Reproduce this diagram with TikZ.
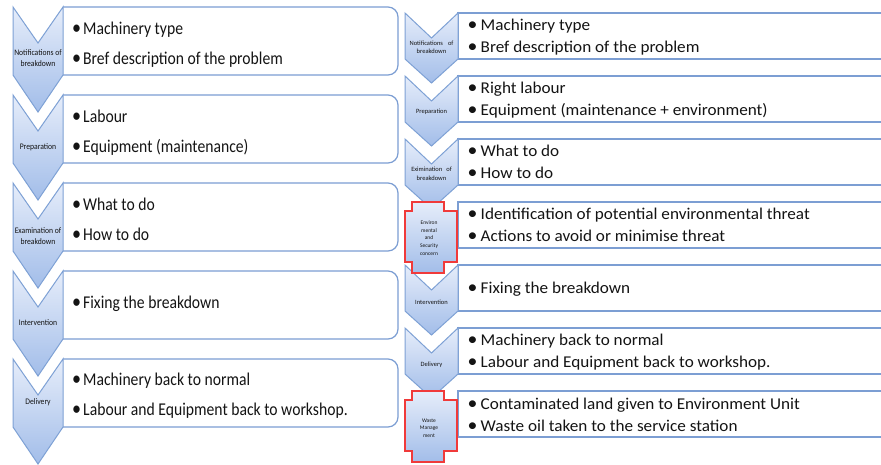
\documentclass[tikz,border=0pt]{standalone}
\usepackage{fontspec}
\setmainfont{Carlito}
\newfontfamily\leftfont[FakeStretch=0.87]{Carlito}
\newfontfamily\rightfont[FakeStretch=1.04]{Carlito}
\newfontfamily\labfont[FakeStretch=0.9]{Carlito}

\definecolor{chevtop}{HTML}{E6EDFA}
\definecolor{chevbot}{HTML}{A2BDE9}
\definecolor{chevline}{HTML}{7EA1D5}
\definecolor{boxline}{HTML}{7C9ED3}
\definecolor{crossline}{HTML}{F03A3A}
\definecolor{txt}{HTML}{141414}

% bullet glyph, enlarged a little, in a fixed-width slot
\newcommand\bigbul{\raisebox{-0.1ex}{\scalebox{1.15}{•}}}
\newcommand\lbul{\makebox[11pt][l]{\bigbul}}
\newcommand\rbul{\makebox[13pt][l]{\bigbul}}

\tikzset{
  chevron/.style={draw=chevline, line width=1pt, top color=chevtop, bottom color=chevbot, line join=miter},
  crossshape/.style={draw=crossline, line width=1.5pt, top color=chevtop, bottom color=chevbot, line join=miter},
  listbox/.style={draw=boxline, line width=1.2pt, fill=white},
  ltext/.style={anchor=base west, inner sep=0pt, font=\leftfont\fontsize{18}{18}\selectfont, text=txt},
  rtext/.style={anchor=base west, inner sep=0pt, font=\rightfont\fontsize{16.5}{16.5}\selectfont, text=txt},
  llabel/.style={align=center, inner sep=0pt, font=\labfont\fontsize{8.5}{11}\selectfont, text=txt},
  rlabel/.style={align=center, inner sep=0pt, font=\fontsize{6.5}{8.5}\selectfont, text=txt},
  clabel/.style={align=center, inner sep=0pt, font=\fontsize{5.5}{7.7}\selectfont, text=txt}
}

\begin{document}
\begin{tikzpicture}[x=1pt,y=-1pt]
\clip (0,0) rectangle (881,464);
\fill[white] (0,0) rectangle (881,464);

% ---------- left list: five steps ----------
\foreach \y in {7,95,183,271,359}{
  \filldraw[listbox, rounded corners=10pt] (63,\y) -- (398,\y) -- (398,\y+68) -- (63,\y+68);
  \path[chevron] (13,\y) -- (38,\y+36) -- (63,\y) -- (63,\y+68) -- (38,\y+105) -- (13,\y+68) -- cycle;
}

\node[llabel] (l1) at (38,58.5) {Notifications of\\breakdown};
\node[llabel] (l2) at (38,147) {Preparation};
\node[llabel] (l3) at (38,236.5) {Examination of\\breakdown};
\node[llabel] (l4) at (38,323) {Intervention};
\node[llabel] (l5) at (38,402) {Delivery};

\node[ltext] (l1a) at (72,34) {\lbul Machinery type};
\node[ltext] (l1b) at (72,64) {\lbul Bref description of the problem};
\node[ltext] (l2a) at (72,122) {\lbul Labour};
\node[ltext] (l2b) at (72,152) {\lbul Equipment (maintenance)};
\node[ltext] (l3a) at (72,210) {\lbul What to do};
\node[ltext] (l3b) at (72,240) {\lbul How to do};
\node[ltext] (l4a) at (72,308) {\lbul Fixing the breakdown};
\node[ltext] (l5a) at (72,385) {\lbul Machinery back to normal};
\node[ltext] (l5b) at (72,415) {\lbul Labour and Equipment back to workshop.};

% ---------- right list: seven steps ----------
\foreach \y in {13,76,139,202,265,328,391}{
  \filldraw[listbox] (890,\y) -- (458,\y) -- (458,\y+46) -- (890,\y+46);
}
\foreach \y in {13,76,139,265,328}{
  \path[chevron] (405,\y) -- (431.5,\y+25) -- (458,\y) -- (458,\y+46) -- (431.5,\y+70) -- (405,\y+46) -- cycle;
}
% environmental steps drawn as crosses
\foreach \y in {202,391}{
  \path[crossshape] (412,\y) -- (444,\y) -- (444,\y+9) -- (457,\y+9) -- (457,\y+60) -- (444,\y+60)
    -- (444,\y+71) -- (412,\y+71) -- (412,\y+60) -- (405,\y+60) -- (405,\y+9) -- (412,\y+9) -- cycle;
}

\node[rlabel] (r1) at (431.5,47.5) {Notifications\hspace{5pt}of\\breakdown};
\node[rlabel] (r2) at (431.5,112) {Preparation};
\node[rlabel] (r3) at (431.5,174) {Eximination\hspace{4pt}of\\breakdown};
\node[clabel] (r4) at (429,238) {Environ\\mental\\and\\Security\\concern};
\node[rlabel] (r5) at (431.5,302) {Intervention};
\node[rlabel] (r6) at (431.5,365) {Delivery};
\node[clabel] (r7) at (429,428) {Waste\\Manage\\ment};

\node[rtext] (r1a) at (467.5,30) {\rbul Machinery type};
\node[rtext] (r1b) at (467.5,52) {\rbul Bref description of the problem};
\node[rtext] (r2a) at (467.5,93) {\rbul Right labour};
\node[rtext] (r2b) at (467.5,115) {\rbul Equipment (maintenance + environment)};
\node[rtext] (r3a) at (467.5,156) {\rbul What to do};
\node[rtext] (r3b) at (467.5,178) {\rbul How to do};
\node[rtext] (r4a) at (467.5,219) {\rbul Identification of potential environmental threat};
\node[rtext] (r4b) at (467.5,241) {\rbul Actions to avoid or minimise threat};
\node[rtext] (r5a) at (467.5,293) {\rbul Fixing the breakdown};
\node[rtext] (r6a) at (467.5,345) {\rbul Machinery back to normal};
\node[rtext] (r6b) at (467.5,367) {\rbul Labour and Equipment back to workshop.};
\node[rtext] (r7a) at (467.5,409) {\rbul Contaminated land given to Environment Unit};
\node[rtext] (r7b) at (467.5,431) {\rbul Waste oil taken to the service station};
\end{tikzpicture}
\end{document}
